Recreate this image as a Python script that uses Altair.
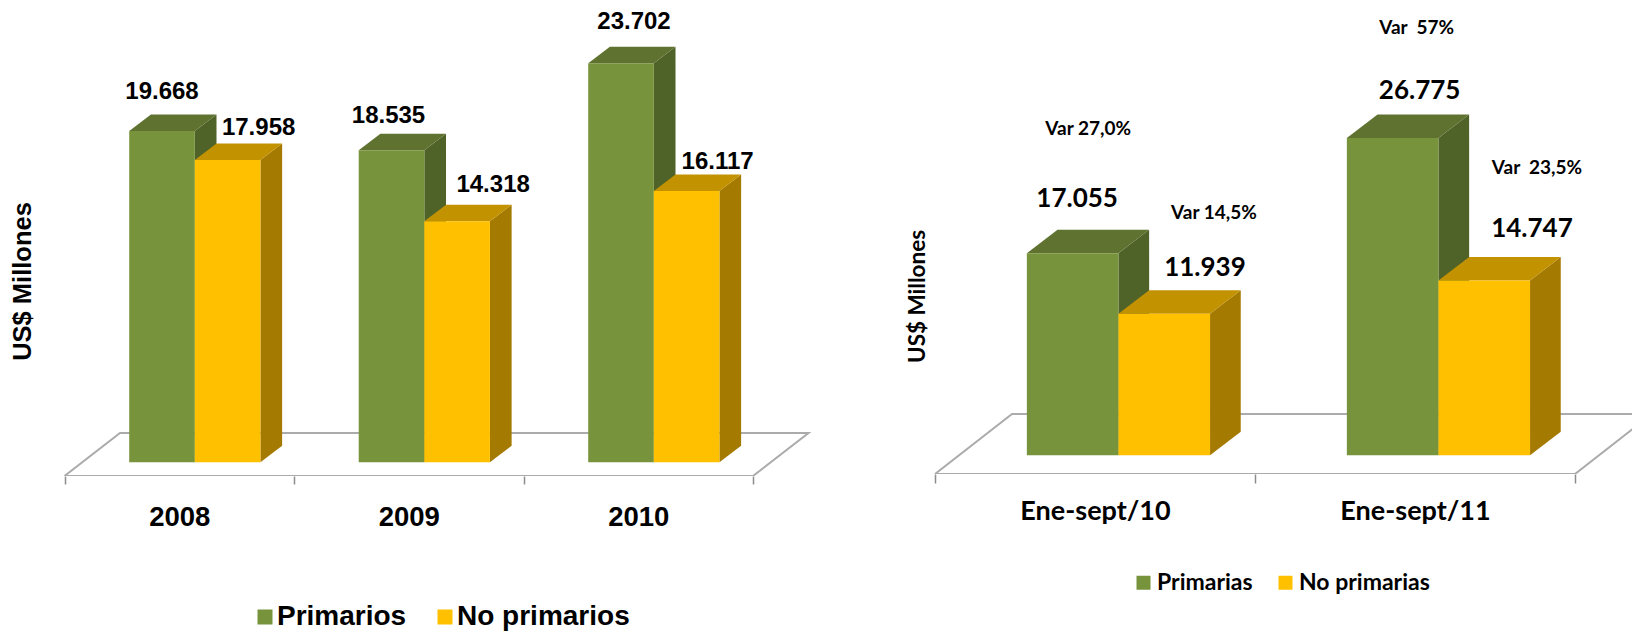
import altair as alt
import pandas as pd

GREEN, GREEN_TOP, GREEN_SIDE = "#77933C", "#5F7230", "#4F6228"
YELLOW, YELLOW_TOP, YELLOW_SIDE = "#FFC000", "#C29200", "#A57A00"
LINE = "#ABABAB"

# ---- left panel values
L_CATS = ["2008", "2009", "2010"]
L_PRIM = [19668, 18535, 23702]
L_NOPR = [17958, 14318, 16117]
L_PRIM_TXT = ["19.668", "18.535", "23.702"]
L_NOPR_TXT = ["17.958", "14.318", "16.117"]
L_PRIM_OFF = [(0, 39), (-3, 34.5), (13, 41)]
L_NOPR_OFF = [(31, 32), (36, 36), (31, 29)]

# ---- right panel values
R_CATS = ["Ene-sept/10", "Ene-sept/11"]
R_PRIM = [17055, 26775]
R_NOPR = [11939, 14747]
R_PRIM_TXT = ["17.055", "26.775"]
R_NOPR_TXT = ["11.939", "14.747"]
R_PRIM_OFF = [(4.5, 54.3), (27, 46.7)]
R_NOPR_OFF = [(40.7, 46.3), (47.7, 52)]
R_PRIM_VAR = ["Var 27,0%", "Var \u00a057%"]
R_NOPR_VAR = ["Var 14,5%", "Var \u00a023,5%"]
R_PRIM_VAR_OFF = [(15.5, 124.3), (24, 109.7)]
R_NOPR_VAR_OFF = [(49.7, 101.3), (52.7, 113)]


def panel(cats, prim, nopr, ptxt, ntxt, poff, noff, pv, nv, pvo, nvo, legend_names, g):
    unit, scale = g["unit"], g["scale"]
    dep_x, dep_v = g["dep_px"][0] / unit, g["dep_px"][1] / scale
    bw = g["bar"] / unit
    n = len(cats)
    zero_to_axis = g["axis_gap"] / scale
    ymin = -zero_to_axis
    ymax = (g["height"] - g["axis_gap"]) / scale
    xmin = -g["tick0"] / unit
    xmax = (g["width"] - g["tick0"]) / unit

    xs = alt.Scale(domain=[xmin, xmax], nice=False, zero=False)
    ys = alt.Scale(domain=[ymin, ymax], nice=False, zero=False)
    names = "[" + ",".join("'%s'" % c for c in cats) + "]"
    xaxis = alt.Axis(
        title=None, grid=False, domain=False,
        values=[i / 2 for i in range(2 * n + 1)],
        tickSize=g["tick"], tickColor="#8C8C8C", tickWidth=1.5,
        tickOpacity={"condition": {"test": "datum.value % 1 == 0", "value": 1}, "value": 0},
        labelExpr=f"datum.value % 1 ? {names}[floor(datum.value)] : ''",
        labelOverlap=False, labelFlush=False, labelFont=g["font"], labelFontWeight="bold",
        labelFontSize=g["cat_size"], labelColor="black", labelPadding=g["cat_pad"], labelBaseline="top",
    )
    yaxis = alt.Axis(
        title="US$ Millones", domain=False, ticks=False, labels=False, grid=False,
        titleFont=g["font"], titleFontSize=g["ytitle_size"], titleFontWeight="bold", titleColor="black",
        titleX=g["ytitle"][0], titleY=g["ytitle"][1], titleAngle=-90,
        titleAlign="center", titleBaseline="middle",
    )
    X = lambda f: alt.X(f, type="quantitative", scale=xs, axis=xaxis)
    Y = lambda f: alt.Y(f, type="quantitative", scale=ys, axis=yaxis)

    # floor outline
    fb = g["floor_back"] / scale
    fd = g["floor_dx"] / unit
    floor = pd.DataFrame({
        "x": [0, fd, n + fd, n, 0],
        "y": [ymin, ymin + fb, ymin + fb, ymin, ymin],
        "o": range(5),
    })
    layers = [
        alt.Chart(floor).mark_line(color=LINE, strokeWidth=2, clip=True).encode(
            x=X("x"), y=Y("y"), order="o:Q")
    ]

    def starts(i):
        return i + g["start"]

    for s, (vals, shift, top_c, side_c) in enumerate(
        [(prim, 0, GREEN_TOP, GREEN_SIDE), (nopr, 1, YELLOW_TOP, YELLOW_SIDE)]
    ):
        rows_side, rows_top, rows_front = [], [], []
        for i, v in enumerate(vals):
            xl = starts(i) + shift * bw
            xr = xl + bw
            rows_side += [
                dict(k=i, x=xr, y=v, y2=0),
                dict(k=i, x=xr + dep_x, y=v + dep_v, y2=dep_v),
            ]
            rows_top += [
                dict(k=i, x=xl, y=v, y2=v),
                dict(k=i, x=xl + dep_x, y=v + dep_v, y2=v),
                dict(k=i, x=xr, y=v + dep_v, y2=v),
                dict(k=i, x=xr + dep_x, y=v + dep_v, y2=v + dep_v),
            ]
            rows_front.append(dict(x=xl, x2=xr, y=v, y2=0, s=legend_names[s]))
        layers.append(alt.Chart(pd.DataFrame(rows_side)).mark_area(color=side_c, interpolate="linear").encode(
            x=X("x"), y=Y("y"), y2="y2:Q", detail="k:N"))
        layers.append(alt.Chart(pd.DataFrame(rows_top)).mark_area(color=top_c, interpolate="linear").encode(
            x=X("x"), y=Y("y"), y2="y2:Q", detail="k:N"))
        layers.append(alt.Chart(pd.DataFrame(rows_front)).mark_rect().encode(
            x=X("x"), x2="x2:Q", y=Y("y"), y2="y2:Q",
            color=alt.Color("s:N", scale=alt.Scale(domain=legend_names, range=[GREEN, YELLOW]),
                legend=alt.Legend(
                    orient="none", legendX=g["legend"][0], legendY=g["legend"][1], direction="horizontal",
                    columns=2, title=None, symbolType="square", symbolSize=g["sym"], symbolStrokeWidth=0,
                    symbolOpacity=1, labelFont=g["font"], labelFontSize=g["leg_size"], labelFontWeight="bold",
                    labelColor="black", labelOffset=g["leg_off"], columnPadding=g["leg_pad"],
                    labelLimit=300,
                ))))

    def text_layer(series, font_size):
        rows = []
        for vals, shift, txt, off in series:
            for i, v in enumerate(vals):
                cx = starts(i) + shift * bw + bw / 2
                rows.append(dict(x=cx + off[i][0] / unit, y=v + off[i][1] / scale, t=txt[i]))
        return alt.Chart(pd.DataFrame(rows)).mark_text(
            font=g["font"], fontWeight="bold", fontSize=font_size, color="black",
            align="center", baseline="middle",
        ).encode(x=X("x"), y=Y("y"), text="t:N")

    layers.append(text_layer([(prim, 0, ptxt, poff), (nopr, 1, ntxt, noff)], g["val_size"]))
    if pv:
        layers.append(text_layer([(prim, 0, pv, pvo), (nopr, 1, nv, nvo)], g["var_size"]))
    return alt.layer(*layers).properties(width=g["width"], height=g["height"])


left = panel(
    L_CATS, L_PRIM, L_NOPR, L_PRIM_TXT, L_NOPR_TXT, L_PRIM_OFF, L_NOPR_OFF, None, None, None, None,
    ["Primarios", "No primarios"],
    dict(unit=229.5, scale=0.01684, dep_px=(21.7, 16.5), bar=65.6, axis_gap=13.7, height=468, width=816,
         tick0=56.5, tick=8, font="Liberation Sans", cat_size=27.5, cat_pad=19, ytitle_size=25.5,
         ytitle=(14, 273), floor_back=43, floor_dx=55.5, start=0.282, sym=225, leg_size=28,
         leg_off={"expr": "-2"}, leg_pad=24, legend=(243, 595), val_size=24, var_size=16),
)
right = panel(
    R_CATS, R_PRIM, R_NOPR, R_PRIM_TXT, R_NOPR_TXT, R_PRIM_OFF, R_NOPR_OFF,
    R_PRIM_VAR, R_NOPR_VAR, R_PRIM_VAR_OFF, R_NOPR_VAR_OFF,
    ["Primarias", "No primarias"],
    dict(unit=320, scale=0.01185, dep_px=(30.7, 23.5), bar=91.6, axis_gap=18.7, height=466, width=808,
         tick0=111, tick=9, font="Lato", cat_size=27, cat_pad=15, ytitle_size=22.5,
         ytitle=(93, 288), floor_back=60, floor_dx=77, start=0.287, sym=196, leg_size=23,
         leg_off=2, leg_pad=21, legend=(308, 563), val_size=26, var_size=19),
)

chart = (
    alt.hconcat(left, right, spacing=0, bounds="flush")
    .resolve_scale(color="independent", x="independent", y="independent")
    .configure_view(stroke=None)
    .properties(padding=0, background="white")
)
chart.save("out.html", embed_options={"renderer": "svg", "actions": False})
